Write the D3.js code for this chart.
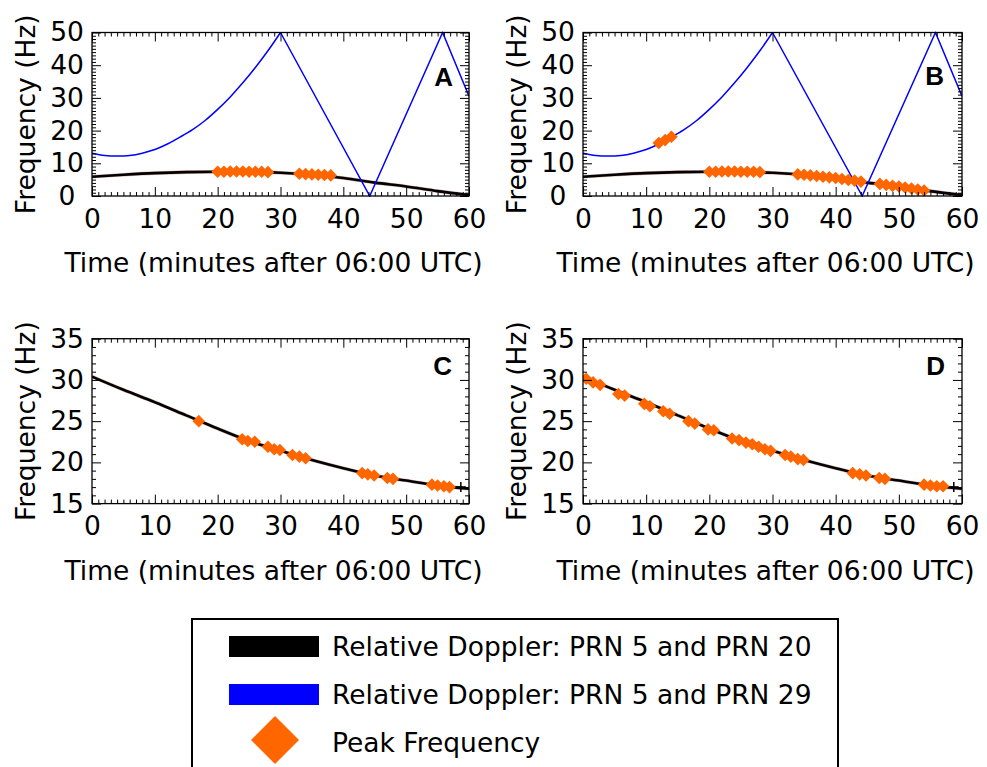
<!DOCTYPE html>
<html>
<head>
<meta charset="utf-8">
<script src="https://cdn.jsdelivr.net/npm/d3@7"></script>
<style>
  html, body { margin: 0; padding: 0; background: #fff; }
  svg text { font-family: "DejaVu Sans", sans-serif; }
</style>
</head>
<body>
<svg id="chart" width="987" height="767"></svg>
<script>
// ---- data ----
// relative doppler PRN 5 / PRN 20, panels A & B (Hz)
const blackTimesAB = [0, 5, 10, 15, 20, 25, 30, 35, 40, 45, 50, 55, 60];
const blackValsAB = [5.9, 6.5, 7.0, 7.3, 7.4, 7.4, 7.1, 6.5, 5.5, 4.1, 2.9, 1.5, 0.3];

// relative doppler PRN 5 / PRN 29 (folded at 50 Hz)
const blueCurveTimes = [0, 2, 4, 6, 8, 10, 12, 14, 16, 18, 20, 22, 24, 26, 28, 30];
const blueCurveVals = [13.1, 12.4, 12.2, 12.4, 13.1, 14.2, 15.9, 18.0, 20.3, 23.1, 26.5, 30.3, 34.6, 39.3, 44.4, 50.0];
const blueFoldTimes = [30, 44.2, 55.8, 60];
const blueFoldVals = [50, 0, 50, 30.5];

// relative doppler PRN 5 / PRN 20, panels C & D (Hz)
const blackTimesCD = [0, 5, 10, 15, 20, 25, 30, 35, 40, 45, 50, 55, 60];
const blackValsCD = [30.4, 28.8, 27.3, 25.7, 24.1, 22.6, 21.4, 20.3, 19.3, 18.4, 17.8, 17.2, 16.8];
const plusTimesCD = [58.7];
const plusValsCD = [17.0];

// peak frequencies
const peakTimesA = [20, 21, 22, 23, 24, 25, 26, 27, 28, 33, 34, 35, 36, 37, 38];
const peakValsA = [7.4, 7.4, 7.5, 7.5, 7.5, 7.4, 7.4, 7.4, 7.3, 6.8, 6.7, 6.6, 6.5, 6.4, 6.3];

const peakTimesB = [12, 13, 14,
  20, 21, 22, 23, 24, 25, 26, 27, 28,
  34, 35, 36, 37, 38, 39, 40, 41, 42, 43, 44,
  47, 48, 49, 50, 51, 52, 53, 54];
const peakValsB = [16.2, 17.1, 18.1,
  7.4, 7.4, 7.5, 7.5, 7.5, 7.4, 7.4, 7.4, 7.3,
  6.6, 6.5, 6.3, 6.1, 5.9, 5.7, 5.5, 5.2, 4.9, 4.7, 4.4,
  3.7, 3.4, 3.1, 2.9, 2.6, 2.3, 2.0, 1.7];

const peakTimesC = [17, 23.9, 24.8, 25.9, 28, 29, 29.9, 31.9, 33, 34, 43, 43.9, 44.9, 47, 47.9, 54.1, 55, 56, 56.9];
const peakValsC = [25.0, 22.8, 22.6, 22.5, 21.9, 21.6, 21.5, 20.9, 20.7, 20.5, 18.7, 18.55, 18.4, 18.1, 18.0, 17.3, 17.2, 17.1, 17.0];

const peakTimesD = [0.5, 1.6, 2.7, 5.6, 6.6, 9.7, 10.6, 12.7, 13.7, 16.7, 17.7, 19.8, 20.7,
  23.6, 24.7, 25.8, 26.8, 27.8, 28.8, 29.7, 32.0, 32.9, 34.0, 34.9,
  42.7, 43.8, 44.8, 46.9, 47.8, 54.0, 55.0, 56.0, 57.0];
const peakValsD = [30.15, 29.7, 29.4, 28.3, 28.1, 27.1, 26.8, 26.2, 25.9, 25.0, 24.7, 24.0, 23.9,
  22.9, 22.7, 22.4, 22.2, 21.9, 21.6, 21.4, 20.9, 20.7, 20.4, 20.3,
  18.7, 18.55, 18.4, 18.1, 18.0, 17.3, 17.2, 17.1, 17.1];

const xTicks = [0, 10, 20, 30, 40, 50, 60];
const yTicksAB = [0, 10, 20, 30, 40, 50];
const yTicksCD = [15, 20, 25, 30, 35];

const legendLabels = ["Relative Doppler: PRN 5 and PRN 20", "Relative Doppler: PRN 5 and PRN 29", "Peak Frequency"];

const BLACK = "#000000", BLUE = "#0000ff", ORANGE = "#ff6600";
const FONT = "26.5px";
const zip = (a, b) => a.map((v, i) => [v, b[i]]);

const svg = d3.select("#chart");

const panels = [
  { letter: "A", x0: 92, x1: 469, y0: 32.5, y1: 196, yDom: [0, 50], yTicks: yTicksAB,
    black: zip(blackTimesAB, blackValsAB), blue: true, peaks: zip(peakTimesA, peakValsA),
    letterDx: 16, letterDy: 53.5 },
  { letter: "B", x0: 583, x1: 962, y0: 32.5, y1: 196, yDom: [0, 50], yTicks: yTicksAB,
    black: zip(blackTimesAB, blackValsAB), blue: true, peaks: zip(peakTimesB, peakValsB),
    letterDx: 18, letterDy: 52.5 },
  { letter: "C", x0: 92, x1: 469, y0: 338.7, y1: 503.6, yDom: [15, 35], yTicks: yTicksCD,
    black: zip(blackTimesCD, blackValsCD), blue: false, peaks: zip(peakTimesC, peakValsC),
    plus: zip(plusTimesCD, plusValsCD), letterDx: 17, letterDy: 36.3 },
  { letter: "D", x0: 583, x1: 962, y0: 338.7, y1: 503.6, yDom: [15, 35], yTicks: yTicksCD,
    black: zip(blackTimesCD, blackValsCD), blue: false, peaks: zip(peakTimesD, peakValsD),
    plus: zip(plusTimesCD, plusValsCD), letterDx: 17, letterDy: 36.3 }
];

const diamond = (s) => `M0,${-s}L${s},0L0,${s}L${-s},0Z`;

panels.forEach((p) => {
  const x = d3.scaleLinear().domain([0, 60]).range([p.x0, p.x1]);
  const y = d3.scaleLinear().domain(p.yDom).range([p.y1, p.y0]);
  const g = svg.append("g");

  const clipId = "clip" + p.letter;
  g.append("clipPath").attr("id", clipId)
    .append("rect").attr("x", p.x0).attr("y", p.y0 - 1)
    .attr("width", p.x1 - p.x0).attr("height", p.y1 - p.y0 + 2);
  const plot = g.append("g").attr("clip-path", `url(#${clipId})`);

  const line = d3.line().x((d) => x(d[0])).y((d) => y(d[1]));

  // black doppler curve (with the faint reddish fringe of the original)
  plot.append("path")
    .datum(p.black)
    .attr("d", line.curve(d3.curveMonotoneX))
    .attr("fill", "none")
    .attr("stroke", "#8b2a1a")
    .attr("stroke-opacity", 0.35)
    .attr("stroke-width", 3.6);
  plot.append("path")
    .datum(p.black)
    .attr("d", line.curve(d3.curveMonotoneX))
    .attr("fill", "none")
    .attr("stroke", BLACK)
    .attr("stroke-width", 2.6);

  if (p.blue) {
    plot.append("path")
      .datum(zip(blueCurveTimes, blueCurveVals))
      .attr("d", line.curve(d3.curveCatmullRom))
      .attr("fill", "none").attr("stroke", BLUE).attr("stroke-width", 1.5);
    plot.append("path")
      .datum(zip(blueFoldTimes, blueFoldVals))
      .attr("d", line.curve(d3.curveLinear))
      .attr("fill", "none").attr("stroke", BLUE).attr("stroke-width", 1.5);
  }

  if (p.plus) {
    plot.selectAll(".plus").data(p.plus).join("path")
      .attr("transform", (d) => `translate(${x(d[0])},${y(d[1])})`)
      .attr("d", "M-5,0H5M0,-5V5")
      .attr("stroke", BLACK).attr("stroke-width", 1.5);
  }

  plot.selectAll(".peak").data(p.peaks).join("path")
    .attr("transform", (d) => `translate(${x(d[0])},${y(d[1])})`)
    .attr("d", diamond(6.3))
    .attr("fill", ORANGE);

  // axes: major + minor ticks, all inward on four sides
  const minorX = d3.range(0, 61, 1).filter((v) => v % 10 !== 0);
  const minorY = d3.range(p.yDom[0], p.yDom[1] + 1, 1).filter((v) => !p.yTicks.includes(v));

  const styleAxis = (sel) => {
    sel.select(".domain").remove();
    sel.selectAll("line").attr("stroke", BLACK).attr("stroke-width", 1);
    sel.selectAll("text").attr("fill", BLACK).style("font-size", FONT);
  };

  g.append("g").attr("transform", `translate(0,${p.y1})`)
    .call(d3.axisBottom(x).tickValues(xTicks).tickSize(-9).tickPadding(13).tickFormat(d3.format("d")))
    .call(styleAxis);
  g.append("g").attr("transform", `translate(0,${p.y1})`)
    .call(d3.axisBottom(x).tickValues(minorX).tickSize(-4).tickFormat(""))
    .call(styleAxis);
  g.append("g").attr("transform", `translate(0,${p.y0})`)
    .call(d3.axisTop(x).tickValues(xTicks).tickSize(-9).tickFormat(""))
    .call(styleAxis);
  g.append("g").attr("transform", `translate(0,${p.y0})`)
    .call(d3.axisTop(x).tickValues(minorX).tickSize(-4).tickFormat(""))
    .call(styleAxis);

  const left = g.append("g").attr("transform", `translate(${p.x0},0)`)
    .call(d3.axisLeft(y).tickValues(p.yTicks).tickSize(-9).tickFormat(d3.format("d")))
    .call(styleAxis);
  left.selectAll("text").attr("text-anchor", "middle").attr("x", -25);
  g.append("g").attr("transform", `translate(${p.x0},0)`)
    .call(d3.axisLeft(y).tickValues(minorY).tickSize(-4).tickFormat(""))
    .call(styleAxis);
  g.append("g").attr("transform", `translate(${p.x1},0)`)
    .call(d3.axisRight(y).tickValues(p.yTicks).tickSize(-9).tickFormat(""))
    .call(styleAxis);
  g.append("g").attr("transform", `translate(${p.x1},0)`)
    .call(d3.axisRight(y).tickValues(minorY).tickSize(-4).tickFormat(""))
    .call(styleAxis);

  // frame
  g.append("rect")
    .attr("x", p.x0).attr("y", p.y0)
    .attr("width", p.x1 - p.x0).attr("height", p.y1 - p.y0)
    .attr("fill", "none").attr("stroke", BLACK).attr("stroke-width", 1.3);

  // labels
  g.append("text")
    .attr("transform", `translate(${p.x0 - 57},${(p.y0 + p.y1) / 2}) rotate(-90)`)
    .attr("text-anchor", "middle")
    .style("font-size", FONT)
    .text("Frequency (Hz)");
  g.append("text")
    .attr("x", (p.x0 + p.x1) / 2 - 7).attr("y", p.y1 + 76)
    .attr("text-anchor", "middle")
    .style("font-size", FONT)
    .text("Time (minutes after 06:00 UTC)");
  g.append("text")
    .attr("x", p.x1 - p.letterDx).attr("y", p.y0 + p.letterDy)
    .attr("text-anchor", "end")
    .style("font-family", "'Liberation Sans', Arial, sans-serif")
    .style("font-weight", "bold")
    .style("font-size", "26px")
    .text(p.letter);
});

// legend
const leg = svg.append("g");
leg.append("rect")
  .attr("x", 192).attr("y", 619).attr("width", 646).attr("height", 170)
  .attr("fill", "#fff").attr("stroke", BLACK).attr("stroke-width", 2);
leg.append("rect").attr("x", 229).attr("y", 636).attr("width", 90).attr("height", 21).attr("fill", BLACK);
leg.append("rect").attr("x", 229).attr("y", 684).attr("width", 90).attr("height", 21).attr("fill", BLUE);
leg.append("path").attr("transform", "translate(275,740)").attr("d", diamond(24)).attr("fill", ORANGE);
leg.selectAll(".lt").data(legendLabels).join("text")
  .attr("x", 332).attr("y", (d, i) => 656 + i * 48)
  .style("font-size", FONT)
  .text((d) => d);
</script>
</body>
</html>
